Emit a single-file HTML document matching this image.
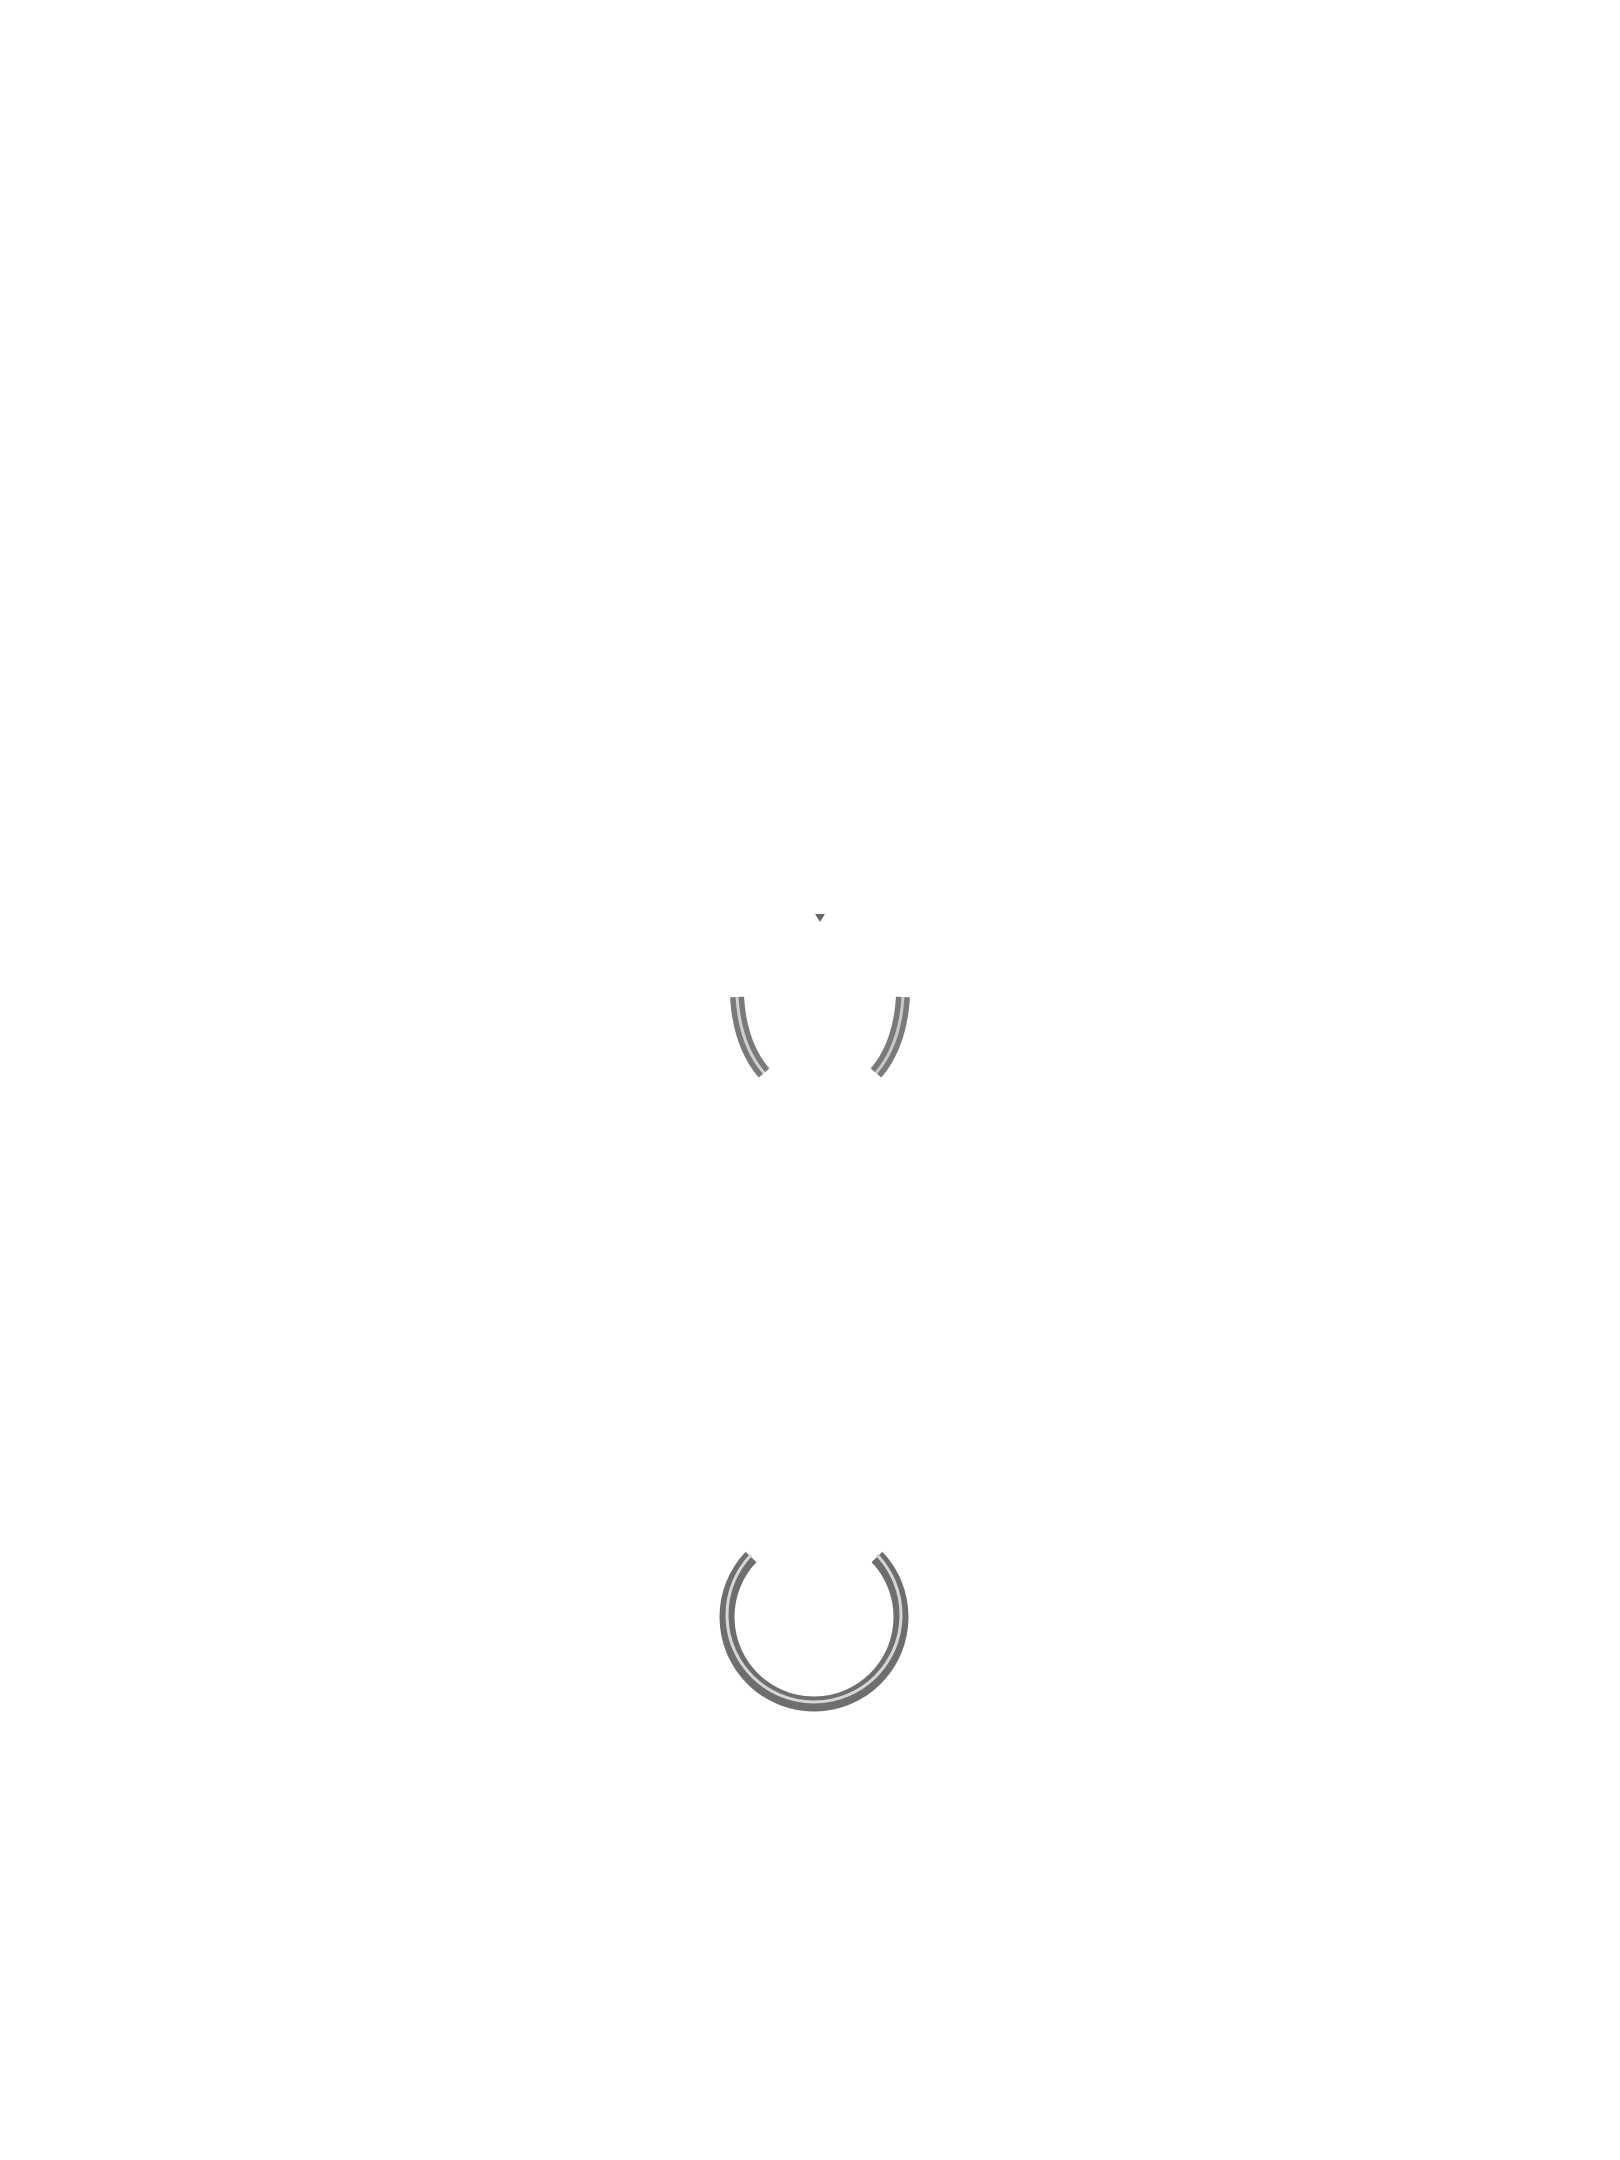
<!DOCTYPE html>
<html><head><meta charset="utf-8"><style>html,body{margin:0;padding:0;background:#fff;width:1620px;height:2160px;overflow:hidden}</style></head>
<body>
<svg width="1620" height="2160" viewBox="0 0 1620 2160" xmlns="http://www.w3.org/2000/svg">
<defs>
<linearGradient id="g" x1="0" y1="0" x2="1" y2="1">
<stop offset="0" stop-color="#d8d8d8"/><stop offset="0.5" stop-color="#6a6a6a"/><stop offset="1" stop-color="#b0b0b0"/>
</linearGradient>
</defs>
<polygon points="815,914 825,914 820,922" fill="#666"/>
<path d="M737,997 Q740,1045 764,1073" fill="none" stroke="#7a7a7a" stroke-width="14"/>
<path d="M737,997 Q740,1045 764,1073" fill="none" stroke="#d0d0d0" stroke-width="3"/>
<path d="M903,997 Q900,1045 876,1073" fill="none" stroke="#7a7a7a" stroke-width="14"/>
<path d="M903,997 Q900,1045 876,1073" fill="none" stroke="#c8c8c8" stroke-width="3"/>
<path d="M751,1557 A87,87 0 1 0 877,1557" fill="none" stroke="#6e6e6e" stroke-width="15"/>
<path d="M751,1557 A87,87 0 1 0 877,1557" fill="none" stroke="#d6d6d6" stroke-width="3" transform="translate(0,-2)"/>
</svg>
</body></html>
